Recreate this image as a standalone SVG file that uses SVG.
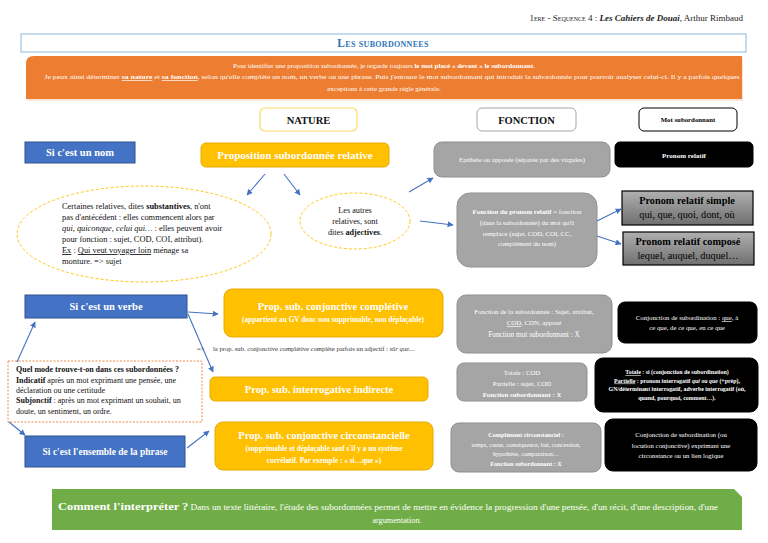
<svg xmlns="http://www.w3.org/2000/svg" width="768" height="543" viewBox="0 0 768 543" font-family="'Liberation Serif', 'DejaVu Serif', serif">
<defs>
<style>
text{font-family:"Liberation Serif","DejaVu Serif",serif;}
.w{fill:#fff;}
.c{text-anchor:middle;}
.b{font-weight:bold;}
.u{text-decoration:underline;}
.i{font-style:italic;}
.blue{fill:#4472c4;stroke:#2f528f;stroke-width:1;}
.yel{fill:#ffc000;stroke:#e6ac00;stroke-width:1;}
.gray{fill:#a5a5a5;stroke:#8f8f8f;stroke-width:1;}
.blk{fill:#000;stroke:#000;}
.con{stroke:#4472c4;stroke-width:1.1;fill:none;marker-end:url(#ah);}
</style>
<marker id="ah" viewBox="0 0 10 10" refX="9" refY="5" markerWidth="6" markerHeight="6" orient="auto" markerUnits="userSpaceOnUse">
<path d="M0,0 L10,5 L0,10 z" fill="#4472c4"/>
</marker>
<linearGradient id="gg" x1="0" y1="0" x2="0" y2="1">
<stop offset="0" stop-color="#b0b0b0"/>
<stop offset="1" stop-color="#6f6f6f"/>
</linearGradient>
</defs>
<rect width="768" height="543" fill="#fff"/>

<g id="header">
<text x="743" y="21" font-size="9" text-anchor="end" fill="#222"><tspan font-variant="small-caps">1ere - Sequence 4 : </tspan><tspan class="i b">Les Cahiers de Douai</tspan>, Arthur Rimbaud</text>
</g>

<g id="title">
<rect x="21" y="34" width="725" height="18" fill="#fff" stroke="#9dc3e6" stroke-width="1.2"/>
<text x="383" y="47" font-size="11.5" class="c b" fill="#2e75b6" font-variant="small-caps" letter-spacing="0.3">Les subordonnees</text>
</g>

<g id="intro">
<rect x="27" y="58" width="716" height="43" fill="#f4d6c2" opacity="0.6"/>
<path d="M34,56 H742 V99 H26 V64 Q26,56 34,56 Z" fill="#ed7d31"/>
<text x="384" y="68" font-size="7" class="c w">Pour identifier une proposition subordonnée, je regarde toujours <tspan class="b">le mot placé « devant » le subordonnant</tspan>.</text>
<text x="392" y="79" font-size="7" class="c w" textLength="695" lengthAdjust="spacingAndGlyphs">Je peux ainsi déterminer <tspan class="b u">sa nature</tspan> et <tspan class="b u">sa fonction</tspan>, selon qu'elle complète un nom, un verbe ou une phrase. Puis j'entoure le mot subordonnant qui introduit la subordonnée pour pouvoir analyser celui-ci. Il y a parfois quelques</text>
<text x="384" y="91" font-size="7" class="c w">exceptions à cette grande règle générale.</text>
</g>

<g id="nature">
<rect x="260" y="108" width="97" height="23" rx="5" fill="#fff" stroke="#ffd966" stroke-width="1.2"/>
<text x="308.5" y="124" font-size="10.5" class="c b" fill="#111">NATURE</text>
</g>
<g id="fonction">
<rect x="477" y="108" width="99" height="23" rx="5" fill="#fff" stroke="#a6a6a6" stroke-width="1"/>
<text x="526.5" y="124" font-size="10.5" class="c b" fill="#111">FONCTION</text>
</g>
<g id="mot-subordonnant">
<rect x="639" y="108" width="98" height="23" rx="5" fill="#fff" stroke="#000" stroke-width="1"/>
<text x="688" y="122" font-size="6.8" class="c b" fill="#000">Mot subordonnant</text>
</g>

<g id="nom">
<rect class="blue" x="25" y="142" width="110" height="21"/>
<text x="80" y="156" font-size="10.5" class="c w b">Si c'est un nom</text>
</g>
<g id="relative">
<rect class="yel" x="201" y="143" width="188" height="24" rx="5"/>
<text x="295" y="159" font-size="11" class="c w b">Proposition subordonnée relative</text>
</g>
<g id="epithete">
<rect class="gray" x="434" y="142" width="176" height="35" rx="8"/>
<text x="522" y="162" font-size="6.8" class="c w">Epithète ou apposée (séparée par des virgules)</text>
</g>
<g id="pronom-relatif">
<rect class="blk" x="615" y="142" width="138" height="25" rx="5"/>
<text x="684" y="158" font-size="7" class="c w b">Pronom relatif</text>
</g>

<g id="substantives">
<ellipse cx="144" cy="234" rx="127" ry="48" fill="#fff" stroke="#ffc000" stroke-width="0.9" stroke-dasharray="3,2"/>
<text x="62" y="209" font-size="8.4" fill="#111">Certaines relatives, dites <tspan class="b">substantives</tspan>, n'ont</text>
<text x="62" y="220" font-size="8.4" fill="#111">pas d'antécédent : elles commencent alors par</text>
<text x="62" y="231" font-size="8.4" fill="#111"><tspan class="i">qui, quiconque, celui qui…</tspan> : elles peuvent avoir</text>
<text x="62" y="242" font-size="8.4" fill="#111">pour fonction : sujet, COD, COI, attribut).</text>
<text x="62" y="253" font-size="8.4" fill="#111"><tspan class="u">Ex</tspan> : <tspan class="u">Qui veut voyager loin</tspan> ménage sa</text>
<text x="62" y="264" font-size="8.4" fill="#111">monture. =&gt; sujet</text>
</g>

<g id="adjectives">
<ellipse cx="355" cy="221" rx="55" ry="28" fill="#fff" stroke="#ffc000" stroke-width="0.9" stroke-dasharray="3,2"/>
<text x="355" y="213" font-size="8.2" class="c" fill="#111">Les autres</text>
<text x="355" y="224" font-size="8.2" class="c" fill="#111">relatives, sont</text>
<text x="355" y="235" font-size="8.2" class="c" fill="#111">dites <tspan class="b">adjectives</tspan>.</text>
</g>

<g id="fonction-pronom">
<rect class="gray" x="457" y="193" width="140" height="74" rx="13"/>
<text x="527" y="214" font-size="6.8" class="c w"><tspan class="b">Fonction du pronom relatif</tspan> = fonction</text>
<text x="527" y="225" font-size="6.8" class="c w">(dans la subordonnée) du mot qu'il</text>
<text x="527" y="235.5" font-size="6.8" class="c w">remplace (sujet, COD, COI, CC,</text>
<text x="527" y="246" font-size="6.8" class="c w">complément du nom)</text>
</g>

<g id="relatif-simple">
<rect x="622" y="191" width="131" height="34" fill="url(#gg)" stroke="#000" stroke-width="1.2"/>
<text x="687" y="204" font-size="10.3" class="c b" fill="#000">Pronom relatif simple</text>
<text x="687" y="218" font-size="10.3" class="c" fill="#000">qui, que, quoi, dont, où</text>
</g>
<g id="relatif-compose">
<rect x="623" y="232" width="131" height="33" fill="url(#gg)" stroke="#000" stroke-width="1.2"/>
<text x="688" y="245" font-size="10.3" class="c b" fill="#000">Pronom relatif composé</text>
<text x="688" y="259" font-size="10.3" class="c" fill="#000">lequel, auquel, duquel…</text>
</g>

<g id="verbe">
<rect class="blue" x="25" y="295" width="162" height="23"/>
<text x="106" y="310" font-size="10.5" class="c w b">Si c'est un verbe</text>
</g>
<g id="completive">
<rect class="yel" x="224" y="289" width="219" height="48" rx="8"/>
<text x="333" y="310" font-size="10.5" class="c w b">Prop. sub. conjonctive complétive</text>
<text x="333" y="322" font-size="7.3" class="c w b">(appartient au GV donc non supprimable, non déplaçable)</text>
</g>
<g id="note-adjectif">
<text x="197" y="351" font-size="6.6" fill="#333">=&gt;<tspan x="213">la prop. sub. conjonctive complétive complète parfois un adjectif : <tspan class="i">sûr que…</tspan></tspan></text>
</g>
<g id="fonction-sub">
<rect class="gray" x="457" y="295" width="155" height="58" rx="9"/>
<text x="534" y="314" font-size="6.8" class="c w">Fonction de la subordonnée : Sujet, attribut,</text>
<text x="534" y="325" font-size="6.8" class="c w"><tspan class="u">COD</tspan>, CDN, apposé</text>
<text x="534" y="337" font-size="7.3" class="c w">Fonction mot subordonnant : X</text>
</g>
<g id="conj-que">
<rect class="blk" x="618" y="302" width="139" height="41" rx="7"/>
<text x="687" y="320" font-size="6.8" class="c w">Conjonction de subordination : <tspan class="u">que</tspan>, à</text>
<text x="687" y="330" font-size="6.8" class="c w">ce que, de ce que, en ce que</text>
</g>

<g id="mode">
<rect x="8" y="361" width="194" height="61" fill="#fff" stroke="#ed7d31" stroke-width="0.9" stroke-dasharray="2,1.5"/>
<text x="16" y="372" font-size="8" fill="#111" class="b">Quel mode trouve-t-on dans ces subordonnées ?</text>
<text x="16" y="382.5" font-size="8" fill="#111"><tspan class="b">Indicatif</tspan> après un mot exprimant une pensée, une</text>
<text x="16" y="392.5" font-size="8" fill="#111">déclaration ou une certitude</text>
<text x="16" y="403" font-size="8" fill="#111"><tspan class="b">Subjonctif</tspan> : après un mot exprimant un souhait, un</text>
<text x="16" y="413.5" font-size="8" fill="#111">doute, un sentiment, un ordre.</text>
</g>

<g id="interrogative">
<rect class="yel" x="210" y="377" width="218" height="24" rx="5"/>
<text x="319" y="393" font-size="10.5" class="c w b">Prop. sub. interrogative indirecte</text>
</g>
<g id="totale-cod">
<rect class="gray" x="457" y="363" width="130" height="38" rx="7"/>
<text x="522" y="375" font-size="6.8" class="c w">Totale : COD</text>
<text x="522" y="386" font-size="6.8" class="c w">Partielle : sujet, COD</text>
<text x="522" y="397" font-size="6.8" class="c w b">Fonction subordonnant : X</text>
</g>
<g id="totale-si">
<rect class="blk" x="595" y="358" width="163" height="54" rx="8"/>
<text x="677" y="374" font-size="5.9" class="c w b"><tspan class="u">Totale</tspan> : si (conjonction de subordination)</text>
<text x="677" y="382.5" font-size="5.9" class="c w b"><tspan class="u">Partielle</tspan> : pronom interrogatif <tspan class="i">qui ou que</tspan> (+prép),</text>
<text x="677" y="391" font-size="5.9" class="c w b">GN/déterminant interrogatif, adverbe interrogatif (où,</text>
<text x="677" y="399.5" font-size="5.9" class="c w b">quand, pourquoi, comment…).</text>
</g>

<g id="ensemble">
<rect class="blue" x="25" y="436" width="160" height="31"/>
<text x="105" y="455" font-size="9.5" class="c w b">Si c'est l'ensemble de la phrase</text>
</g>
<g id="circonstancielle">
<rect class="yel" x="215" y="422" width="218" height="48" rx="8"/>
<text x="324" y="439" font-size="10.5" class="c w b">Prop. sub. conjonctive circonstancielle</text>
<text x="324" y="451" font-size="7.3" class="c w b">(supprimable et déplaçable sauf s'il y a un système</text>
<text x="324" y="463" font-size="7.3" class="c w b">corrélatif. Par exemple : « si…que »)</text>
</g>
<g id="complement-circ">
<rect class="gray" x="451" y="423" width="150" height="49" rx="8"/>
<text x="526" y="437" font-size="6.2" class="c w b">Complément circonstanciel :</text>
<text x="526" y="446.5" font-size="6.2" class="c w">temps, cause, conséquence, but, concession,</text>
<text x="526" y="456" font-size="6.2" class="c w">hypothèse, comparaison…</text>
<text x="526" y="465.5" font-size="6.2" class="c w b">Fonction subordonnant : X</text>
</g>
<g id="conj-circ">
<rect class="blk" x="605" y="419" width="152" height="52" rx="8"/>
<text x="681" y="437" font-size="6.8" class="c w">Conjonction de subordination (ou</text>
<text x="681" y="447.5" font-size="6.8" class="c w">locution conjonctive) exprimant une</text>
<text x="681" y="458" font-size="6.8" class="c w">circonstance ou un lien logique</text>
</g>

<g id="interpretation">
<path d="M52,489 H734 L742,497 V530 H52 Z" fill="#70ad47"/>
<text x="388" y="510" font-size="8.2" class="c w" textLength="660" lengthAdjust="spacingAndGlyphs"><tspan font-size="11" class="b">Comment l'interpréter ?</tspan> Dans un texte littéraire, l'étude des subordonnées permet de mettre en évidence la progression d'une pensée, d'un récit, d'une description, d'une</text>
<text x="397" y="523" font-size="8.2" class="c w">argumentation.</text>
</g>

<g id="connectors">
<line class="con" x1="265" y1="174" x2="247" y2="195"/>
<line class="con" x1="284" y1="174" x2="300" y2="195"/>
<line class="con" x1="409" y1="192" x2="433" y2="178"/>
<line class="con" x1="420" y1="221" x2="453" y2="225"/>
<line class="con" x1="597" y1="221" x2="621" y2="209"/>
<line class="con" x1="597" y1="236" x2="621" y2="244"/>
<line class="con" x1="188" y1="312" x2="218" y2="314"/>
<line class="con" x1="188" y1="314" x2="213" y2="372"/>
<line class="con" x1="17" y1="362" x2="35" y2="322"/>
<line class="con" x1="9" y1="422" x2="25" y2="435"/>
<line class="con" x1="187" y1="448" x2="209" y2="431"/>
</g>
</svg>
